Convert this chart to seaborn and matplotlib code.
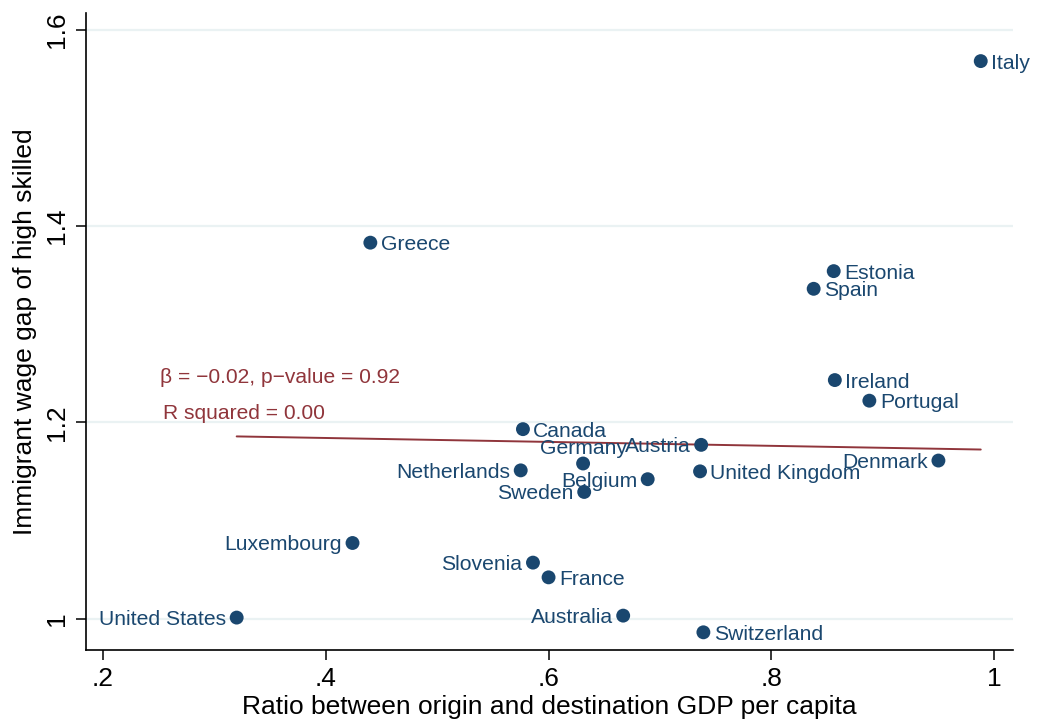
import numpy as np
import pandas as pd
import matplotlib
matplotlib.use("Agg")
import matplotlib.pyplot as plt
import seaborn as sns

# Country-level observations
countries = ["Italy", "Greece", "Estonia", "Spain", "Ireland", "Portugal",
             "Canada", "Austria", "Germany", "Netherlands", "United Kingdom",
             "Belgium", "Denmark", "Sweden", "Luxembourg", "Slovenia",
             "France", "United States", "Australia", "Switzerland"]
gdp_ratio = [0.988, 0.440, 0.856, 0.838, 0.857, 0.888,
             0.577, 0.737, 0.631, 0.575, 0.736,
             0.689, 0.950, 0.632, 0.424, 0.586,
             0.600, 0.320, 0.667, 0.739]
wage_gap = [1.568, 1.383, 1.354, 1.336, 1.243, 1.222,
            1.193, 1.177, 1.158, 1.151, 1.150,
            1.142, 1.161, 1.129, 1.077, 1.057,
            1.042, 1.001, 1.003, 0.986]
# Label placement relative to marker: r = right, l = left, t = above
label_pos = ["r", "r", "r", "r", "r", "r",
             "r", "l", "t", "l", "r",
             "l", "l", "l", "l", "l",
             "r", "l", "l", "r"]

# Estimated linear fit reported on the chart
fit_beta = -0.02
fit_intercept = 1.192
fit_pvalue = 0.92
fit_r2 = 0.00

x_ticks = [0.2, 0.4, 0.6, 0.8, 1.0]
x_tick_labels = [".2", ".4", ".6", ".8", "1"]
y_ticks = [1.0, 1.2, 1.4, 1.6]
y_tick_labels = ["1", "1.2", "1.4", "1.6"]

stats_line1 = f"\u03b2 = \u2212{abs(fit_beta):.2f}, p\u2212value = {fit_pvalue:.2f}"
stats_line2 = f"R squared = {fit_r2:.2f}"

df = pd.DataFrame({"country": countries, "ratio": gdp_ratio,
                   "gap": wage_gap, "pos": label_pos})

# Fitted line over the observed range of the regressor
fit_x = np.array([min(gdp_ratio), max(gdp_ratio)])
fit_df = pd.DataFrame({"ratio": fit_x, "gap": fit_intercept + fit_beta * fit_x})

NAVY = "#1A476F"
MAROON = "#90353B"
GRID = "#EAF2F3"
LABEL_FS = 15.2

sns.set_theme(style="white")
plt.rcParams["font.family"] = ["Liberation Sans", "DejaVu Sans"]

fig = plt.figure(figsize=(10.37, 7.23), dpi=100)
ax = fig.add_axes([0.0829, 0.101, 0.894, 0.881])

for yv in y_ticks:
    ax.axhline(yv, color=GRID, lw=1.6, zorder=0)

sns.lineplot(data=fit_df, x="ratio", y="gap", color=MAROON, lw=1.4,
             zorder=2, ax=ax)
sns.scatterplot(data=df, x="ratio", y="gap", color=NAVY, s=100,
                edgecolor="none", zorder=3, ax=ax)

for _, row in df.iterrows():
    if row["pos"] == "r":
        ax.annotate(row["country"], (row["ratio"], row["gap"]),
                    xytext=(7.5, 0), textcoords="offset points",
                    ha="left", va="center_baseline", color=NAVY,
                    fontsize=LABEL_FS)
    elif row["pos"] == "l":
        ax.annotate(row["country"], (row["ratio"], row["gap"]),
                    xytext=(-7.5, 0), textcoords="offset points",
                    ha="right", va="center_baseline", color=NAVY,
                    fontsize=LABEL_FS)
    else:
        ax.annotate(row["country"], (row["ratio"], row["gap"]),
                    xytext=(0, 12), textcoords="offset points",
                    ha="center", va="center_baseline", color=NAVY,
                    fontsize=LABEL_FS)

ax.text(0.251, 1.248, stats_line1, color=MAROON, fontsize=15.1,
        ha="left", va="center_baseline")
ax.text(0.254, 1.211, stats_line2, color=MAROON, fontsize=15.1,
        ha="left", va="center_baseline")

ax.set_xlim(0.1847, 1.017)
ax.set_ylim(0.968, 1.617)
ax.set_xticks(x_ticks)
ax.set_xticklabels(x_tick_labels, fontsize=19, color="black")
ax.set_yticks(y_ticks)
ax.set_yticklabels(y_tick_labels, fontsize=19, rotation=90, va="center",
                   color="black")
ax.tick_params(axis="both", which="major", direction="out", length=7,
               width=1.1, color="black", left=True, bottom=True, pad=5)

ax.set_xlabel("Ratio between origin and destination GDP per capita",
              fontsize=19, labelpad=3, color="black")
ax.set_ylabel("Immigrant wage gap of high skilled", fontsize=19, labelpad=6,
              color="black")

for side in ["top", "right"]:
    ax.spines[side].set_visible(False)
for side in ["left", "bottom"]:
    ax.spines[side].set_color("black")
    ax.spines[side].set_linewidth(1.2)

fig.savefig("out.png", dpi=100, facecolor="white")
